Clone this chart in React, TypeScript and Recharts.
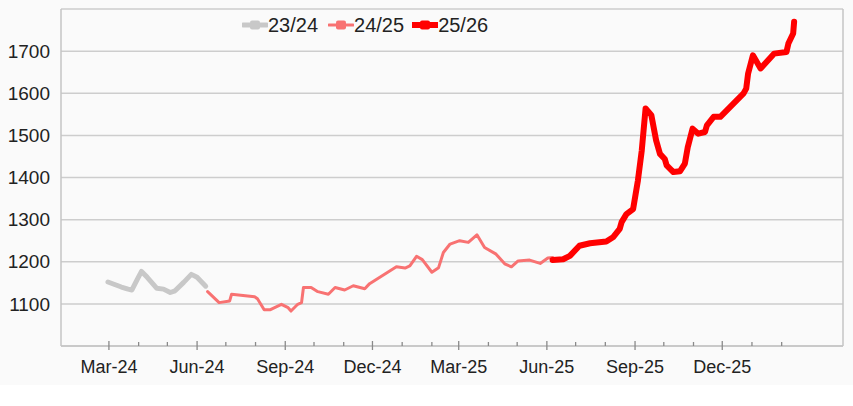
import React from 'react';
import { LineChart, Line, XAxis, YAxis, CartesianGrid, Legend, ReferenceLine } from 'recharts';

// ---- Data ----
const dates2324 = [
  '2024-02-29', '2024-03-07', '2024-03-14', '2024-03-21', '2024-03-25', '2024-03-31',
  '2024-04-04', '2024-04-10', '2024-04-20', '2024-04-27', '2024-05-04', '2024-05-09',
  '2024-05-18', '2024-05-26', '2024-06-01', '2024-06-10',
];
const values2324 = [
  1152, 1146, 1140, 1135, 1133, 1160,
  1177, 1163, 1137, 1135, 1127, 1131,
  1151, 1170, 1163, 1142,
];

const dates2425 = [
  '2024-06-12', '2024-06-24', '2024-07-05', '2024-07-07', '2024-07-31', '2024-08-03',
  '2024-08-10', '2024-08-16', '2024-08-28', '2024-09-04', '2024-09-07', '2024-09-14',
  '2024-09-18', '2024-09-20', '2024-09-28', '2024-10-05', '2024-10-16', '2024-10-23',
  '2024-11-02', '2024-11-11', '2024-11-23', '2024-11-28', '2024-12-26', '2025-01-04',
  '2025-01-09', '2025-01-16', '2025-01-22', '2025-02-01', '2025-02-08', '2025-02-13',
  '2025-02-20', '2025-03-02', '2025-03-11', '2025-03-20', '2025-03-28', '2025-04-09',
  '2025-04-18', '2025-04-25', '2025-05-02', '2025-05-14', '2025-05-25', '2025-06-02',
  '2025-06-07',
];
const values2425 = [
  1129, 1103, 1107, 1123, 1117, 1112,
  1086, 1086, 1099, 1091, 1083, 1099,
  1103, 1139, 1139, 1129, 1123, 1139,
  1133, 1143, 1136, 1148, 1188, 1185,
  1190, 1213, 1205, 1175, 1186, 1222,
  1242, 1250, 1246, 1264, 1234, 1218,
  1195, 1188, 1202, 1204, 1196, 1209,
  1210,
];

const dates2526 = [
  '2025-06-07', '2025-06-18', '2025-06-25', '2025-07-05', '2025-07-16', '2025-08-02',
  '2025-08-09', '2025-08-16', '2025-08-18', '2025-08-23', '2025-08-30', '2025-09-04',
  '2025-09-08', '2025-09-12', '2025-09-18', '2025-09-23', '2025-09-27', '2025-10-02',
  '2025-10-04', '2025-10-11', '2025-10-18', '2025-10-23', '2025-10-26', '2025-10-31',
  '2025-11-06', '2025-11-13', '2025-11-15', '2025-11-22', '2025-11-29', '2025-12-23',
  '2025-12-26', '2025-12-28', '2026-01-02', '2026-01-10', '2026-01-24', '2026-02-06',
  '2026-02-08', '2026-02-13', '2026-02-14',
];
const values2526 = [
  1204, 1206, 1214, 1238, 1244, 1248,
  1258, 1278, 1294, 1313, 1325, 1393,
  1464, 1564, 1548, 1488, 1456, 1444,
  1429, 1413, 1415, 1433, 1472, 1516,
  1504, 1508, 1524, 1544, 1544, 1599,
  1611, 1647, 1690, 1659, 1694, 1698,
  1718, 1742, 1770,
];

const seriesNames = ['23/24', '24/25', '25/26'];
const seriesColors = ['#c8c8c8', '#f87272', '#ff0000'];
const seriesWidths = [5, 3, 6];

const tickMonths = [
  '2024-03-01', '2024-04-01', '2024-05-01', '2024-06-01', '2024-07-01', '2024-08-01',
  '2024-09-01', '2024-10-01', '2024-11-01', '2024-12-01', '2025-01-01', '2025-02-01',
  '2025-03-01', '2025-04-01', '2025-05-01', '2025-06-01', '2025-07-01', '2025-08-01',
  '2025-09-01', '2025-10-01', '2025-11-01', '2025-12-01', '2026-01-01', '2026-02-01',
];
const yTicks = [1000, 1100, 1200, 1300, 1400, 1500, 1600, 1700, 1800];
const xDomainDates = ['2024-01-11', '2026-04-06'];

const MONTHS = ['Jan', 'Feb', 'Mar', 'Apr', 'May', 'Jun', 'Jul', 'Aug', 'Sep', 'Oct', 'Nov', 'Dec'];
const FONT = '"Liberation Sans", Arial, sans-serif';

const toT = (s: string) => Date.parse(s + 'T00:00:00Z');
const build = (d: string[], v: number[]) => d.map((s, i) => ({ t: toT(s), v: v[i] }));

const seriesData = [build(dates2324, values2324), build(dates2425, values2425), build(dates2526, values2526)];
const xTicks = tickMonths.map(toT);
const xDomain = xDomainDates.map(toT);

const MonthTick = (props: any) => {
  const { x, y, payload } = props;
  const d = new Date(payload.value);
  const m = d.getUTCMonth();
  const major = m % 3 === 2;
  const label = `${MONTHS[m]}-${String(d.getUTCFullYear() % 100).padStart(2, '0')}`;
  return (
    <g>
      <line x1={x} x2={x} y1={major ? y - 5 : y - 4} y2={major ? y + 4 : y} stroke="#8a8a8a" strokeWidth={1.3} />
      {major && (
        <text x={x} y={y + 27} textAnchor="middle" fontSize={18} fill="#222" fontFamily={FONT}>
          {label}
        </text>
      )}
    </g>
  );
};

const renderLegend = () => (
  <div style={{ display: 'flex', alignItems: 'center', fontFamily: FONT, fontSize: 20, color: '#222', lineHeight: '20px' }}>
    {seriesNames.map((n, i) => (
      <div key={n} style={{ display: 'flex', alignItems: 'center', marginRight: i === 0 ? 10 : 8 }}>
        <svg width={26} height={16} style={{ display: 'block' }}>
          <line x1={1} x2={25} y1={8} y2={8} stroke={seriesColors[i]} strokeWidth={seriesWidths[i]} strokeLinecap="round" />
          <rect x={8} y={3.5} width={10} height={9} rx={2} fill={seriesColors[i]} />
        </svg>
        <span>{n}</span>
      </div>
    ))}
  </div>
);

export default function App() {
  return (
    <div style={{ width: 853, height: 406, background: 'linear-gradient(#fafafa 0px, #fafafa 385px, #ffffff 385px)', position: 'relative' }}>
      <style>{`body{margin:0}`}</style>
      <LineChart width={853} height={406} margin={{ top: 9, right: 10, bottom: 0, left: 0 }}>
        <CartesianGrid vertical={false} stroke="#cdcdcd" strokeWidth={1.5} />
        <XAxis
          dataKey="t"
          type="number"
          domain={xDomain}
          ticks={xTicks}
          allowDataOverflow
          height={60}
          tickSize={0}
          tickMargin={0}
          tick={<MonthTick />}
          interval={0}
          axisLine={{ stroke: '#c4c4c4', strokeWidth: 1.5 }}
        />
        <YAxis
          type="number"
          domain={[1000, 1800]}
          ticks={yTicks}
          width={61}
          tickLine={false}
          tickSize={6}
          tickMargin={5}
          interval={0}
          tickFormatter={(v: number) => (v === 1000 || v === 1800 ? '' : String(v))}
          tick={{ fontSize: 19, fill: '#222', fontFamily: FONT }}
          axisLine={{ stroke: '#c4c4c4', strokeWidth: 1.5 }}
        />
        <ReferenceLine x={xDomain[1]} stroke="#c4c4c4" strokeWidth={1.5} />
        <Legend
          verticalAlign="middle"
          align="center"
          layout="horizontal"
          wrapperStyle={{ position: 'absolute', top: 15, left: 242, width: 300, height: 20 }}
          content={renderLegend}
        />
        {seriesData.map((d, i) => (
          <Line
            key={seriesNames[i]}
            data={d}
            dataKey="v"
            name={seriesNames[i]}
            type="linear"
            stroke={seriesColors[i]}
            strokeWidth={seriesWidths[i]}
            strokeLinejoin="round"
            strokeLinecap="round"
            dot={false}
            activeDot={false}
            isAnimationActive={false}
          />
        ))}
      </LineChart>
    </div>
  );
}
